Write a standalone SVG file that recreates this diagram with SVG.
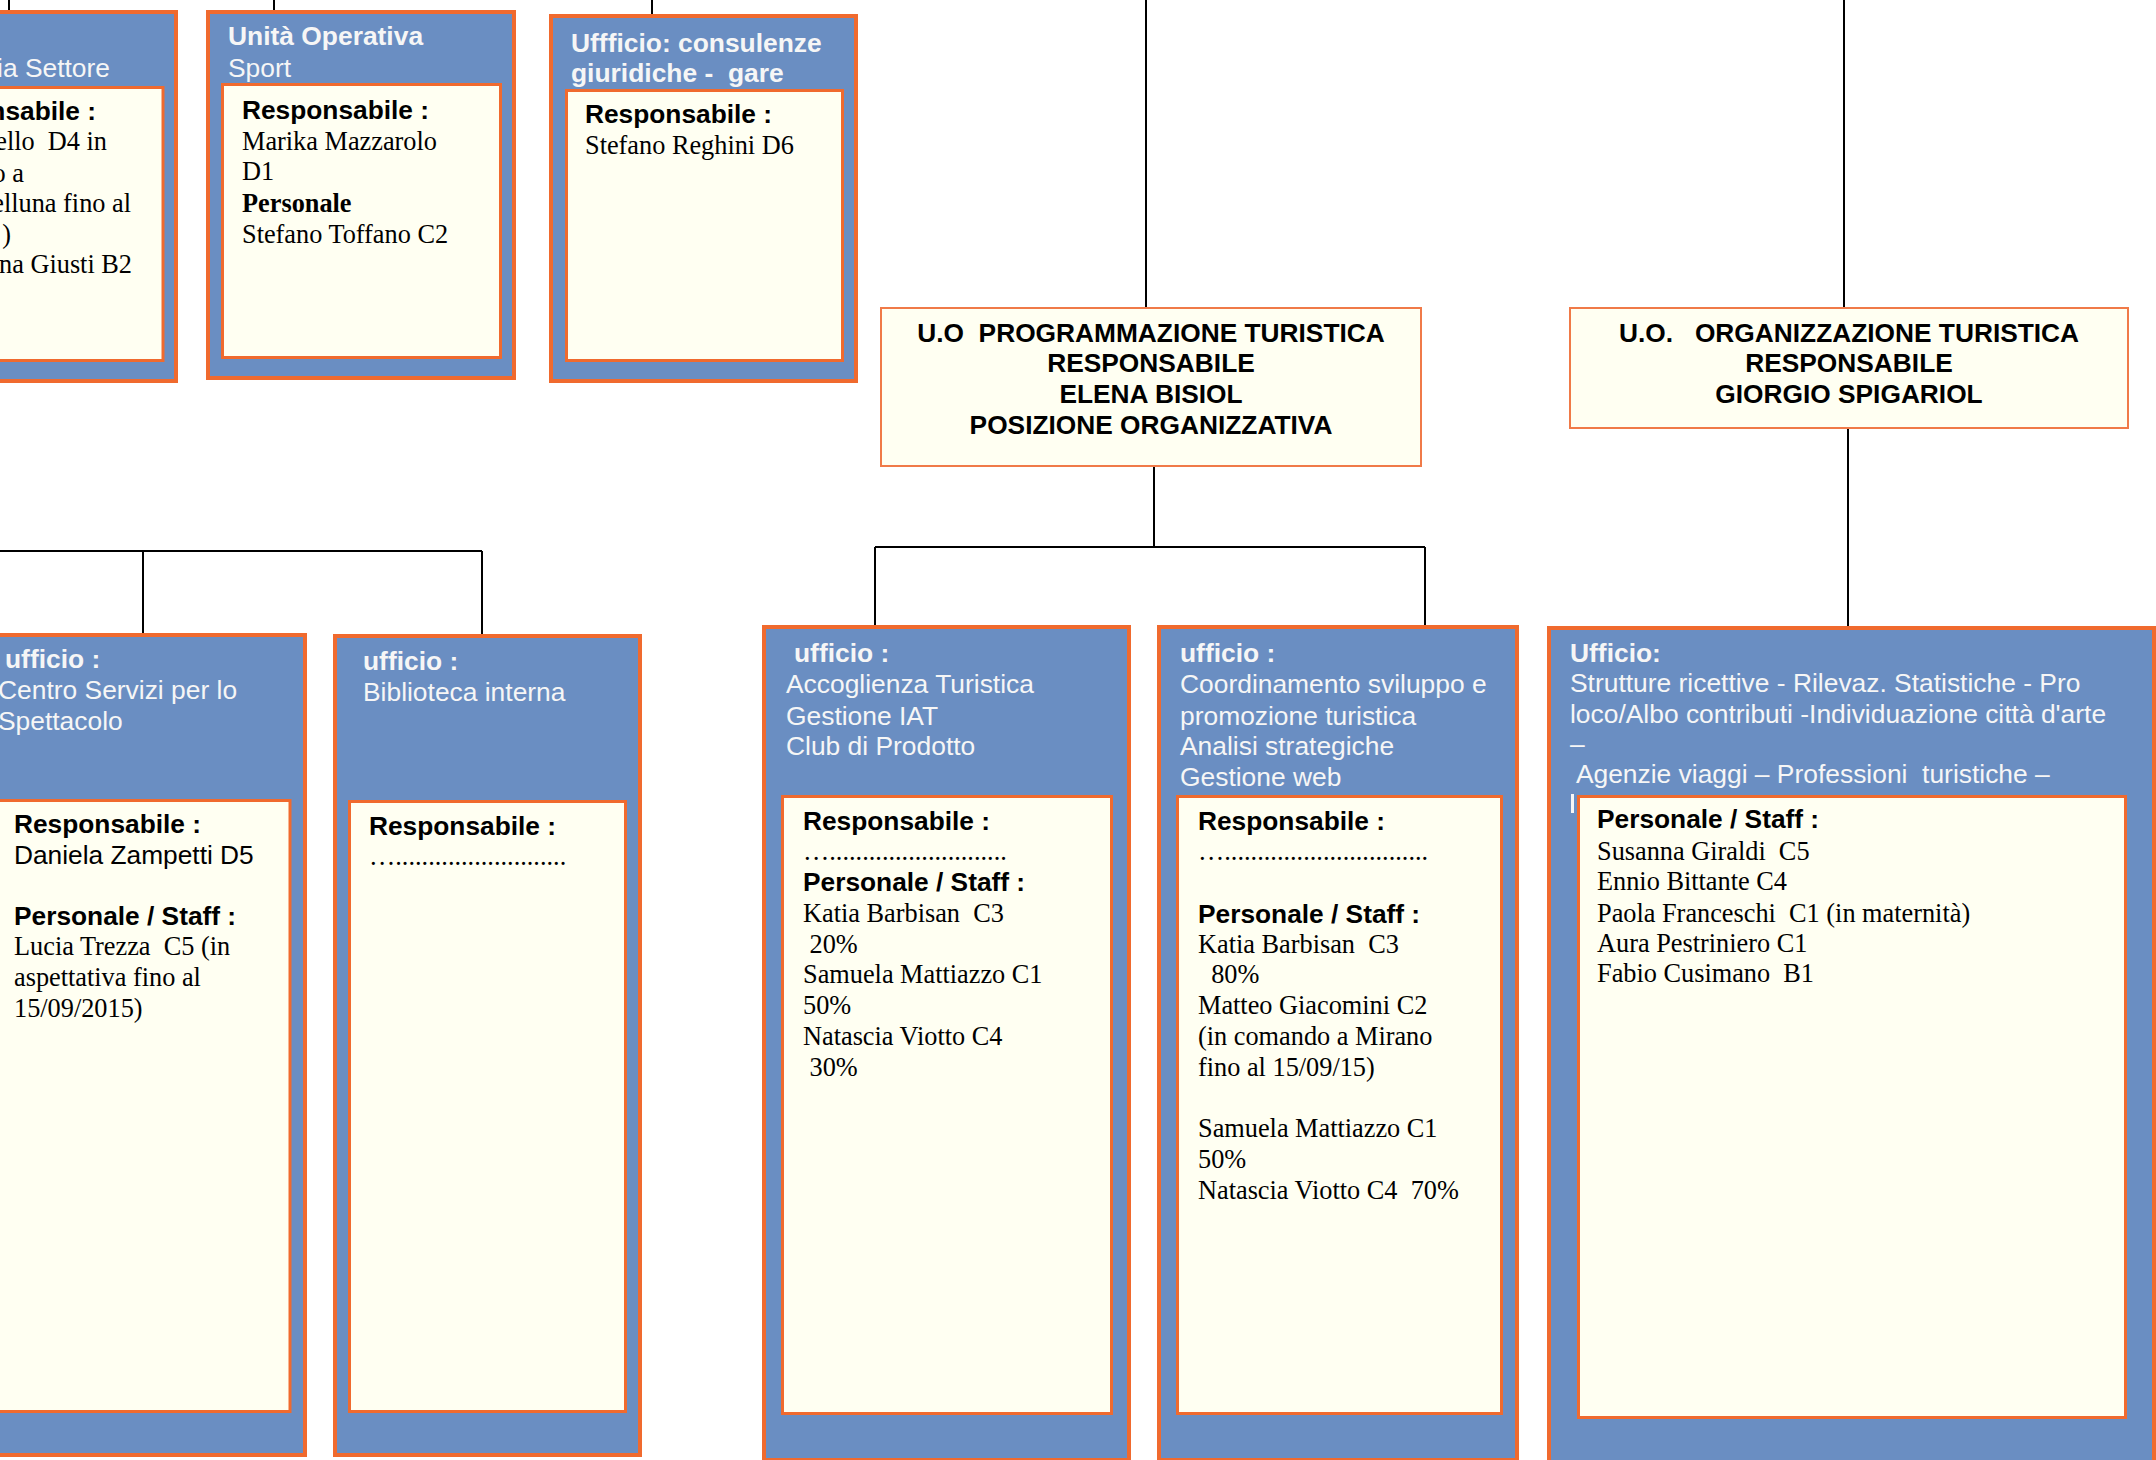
<svg xmlns="http://www.w3.org/2000/svg" width="2156" height="1460" viewBox="0 0 2156 1460">
<style>
.outer{fill:#6a8ec2;stroke:#f06a2e;stroke-width:4}
.inner{fill:#fffff2;stroke:#f06a2e;stroke-width:3}
.uo{fill:#fffff2;stroke:#f07a48;stroke-width:2}
.hb{font-family:"Liberation Sans",Arial,sans-serif;font-size:26.4px;font-weight:bold;fill:#f6f6f6}
.hr{font-family:"Liberation Sans",Arial,sans-serif;font-size:26.4px;fill:#f6f6f6}
.sb{font-family:"Liberation Sans",Arial,sans-serif;font-size:26.3px;font-weight:bold;fill:#000}
.sr{font-family:"Liberation Sans",Arial,sans-serif;font-size:26.3px;fill:#000}
.tr{font-family:"Liberation Serif","Times New Roman",serif;font-size:26.3px;fill:#000}
.tb{font-family:"Liberation Serif","Times New Roman",serif;font-size:26.3px;font-weight:bold;fill:#000}
.c{text-anchor:middle}
.e{text-anchor:end}
.ln{stroke:#000;stroke-width:2;fill:none}
</style>
<rect width="2156" height="1460" fill="#fff"/>
<g id="connectors">
<path class="ln" d="M9 0V10M274 0V10M652 0V14M1146 0V307M1844 0V307"/>
<path class="ln" d="M1154 467V547M875 547H1425M875 547V626M1425 547V626"/>
<path class="ln" d="M1848 428V627"/>
<path class="ln" d="M0 551H482M143 551V633M482 551V634"/>
</g>
<g id="box-settore">
<rect class="outer" x="-10" y="12" width="186" height="369"/>
<rect class="inner" x="-10" y="87.5" width="173" height="273"/>
<text class="hr e" x="110" y="77">ia Settore</text>
<text class="sb e" x="96" y="120">nsabile :</text>
<text class="tr e" x="107" y="150" xml:space="preserve">ello  D4 in</text>
<text class="tr e" x="24" y="182">o a</text>
<text class="tr e" x="131" y="212">elluna fino al</text>
<text class="tr e" x="11" y="243">)</text>
<text class="tr e" x="132" y="273">na Giusti B2</text>
</g>
<g id="box-sport">
<rect class="outer" x="208" y="12" width="306" height="366"/>
<rect class="inner" x="222.5" y="84.5" width="278" height="273"/>
<text class="hb" x="228" y="45">Unità Operativa</text>
<text class="hr" x="228" y="77">Sport</text>
<text class="sb" x="242" y="119">Responsabile :</text>
<text class="tr" x="242" y="150">Marika Mazzarolo</text>
<text class="tr" x="242" y="180">D1</text>
<text class="tb" x="242" y="212">Personale</text>
<text class="tr" x="242" y="243">Stefano Toffano C2</text>
</g>
<g id="box-consulenze">
<rect class="outer" x="551" y="16" width="305" height="365"/>
<rect class="inner" x="566.5" y="90.5" width="276" height="270"/>
<text class="hb" x="571" y="52">Uffficio: consulenze</text>
<text class="hb" x="571" y="82" xml:space="preserve">giuridiche -  gare</text>
<text class="sb" x="585" y="123">Responsabile :</text>
<text class="tr" x="585" y="154">Stefano Reghini D6</text>
</g>
<g id="uo-programmazione">
<rect class="uo" x="881" y="308" width="540" height="158"/>
<text class="sb c" x="1151" y="342" xml:space="preserve">U.O  PROGRAMMAZIONE TURISTICA</text>
<text class="sb c" x="1151" y="372">RESPONSABILE</text>
<text class="sb c" x="1151" y="403">ELENA BISIOL</text>
<text class="sb c" x="1151" y="434">POSIZIONE ORGANIZZATIVA</text>
</g>
<g id="uo-organizzazione">
<rect class="uo" x="1570" y="308" width="558" height="120"/>
<text class="sb c" x="1849" y="342" xml:space="preserve">U.O.   ORGANIZZAZIONE TURISTICA</text>
<text class="sb c" x="1849" y="372">RESPONSABILE</text>
<text class="sb c" x="1849" y="403">GIORGIO SPIGARIOL</text>
</g>
<g id="box-centro-servizi">
<rect class="outer" x="-10" y="635" width="315" height="820"/>
<rect class="inner" x="-10" y="800.5" width="300" height="611"/>
<text class="hb" x="5" y="668">ufficio :</text>
<text class="hr" x="-2" y="699">Centro Servizi per lo</text>
<text class="hr" x="-2" y="730">Spettacolo</text>
<text class="sb" x="14" y="833">Responsabile :</text>
<text class="sr" x="14" y="864">Daniela Zampetti D5</text>
<text class="sb" x="14" y="925">Personale / Staff :</text>
<text class="tr" x="14" y="955" xml:space="preserve">Lucia Trezza  C5 (in</text>
<text class="tr" x="14" y="986">aspettativa fino al</text>
<text class="tr" x="14" y="1017">15/09/2015)</text>
</g>
<g id="box-biblioteca">
<rect class="outer" x="335" y="636" width="305" height="819"/>
<rect class="inner" x="349.5" y="801.5" width="276" height="610"/>
<text class="hb" x="363" y="670">ufficio :</text>
<text class="hr" x="363" y="701">Biblioteca interna</text>
<text class="sb" x="369" y="835">Responsabile :</text>
<text class="tr" x="369" y="865">…..........................</text>
</g>
<g id="box-accoglienza">
<rect class="outer" x="764" y="627" width="365" height="833"/>
<rect class="inner" x="782.5" y="796.5" width="329" height="617"/>
<text class="hb" x="794" y="662">ufficio :</text>
<text class="hr" x="786" y="693">Accoglienza Turistica</text>
<text class="hr" x="786" y="725">Gestione IAT</text>
<text class="hr" x="786" y="755">Club di Prodotto</text>
<text class="sb" x="803" y="830">Responsabile :</text>
<text class="tr" x="803" y="860">…...........................</text>
<text class="sb" x="803" y="891">Personale / Staff :</text>
<text class="tr" x="803" y="922" xml:space="preserve">Katia Barbisan  C3</text>
<text class="tr" x="803" y="953" xml:space="preserve"> 20%</text>
<text class="tr" x="803" y="983">Samuela Mattiazzo C1</text>
<text class="tr" x="803" y="1014">50%</text>
<text class="tr" x="803" y="1045">Natascia Viotto C4</text>
<text class="tr" x="803" y="1076" xml:space="preserve"> 30%</text>
</g>
<g id="box-coordinamento">
<rect class="outer" x="1159" y="627" width="358" height="833"/>
<rect class="inner" x="1177.5" y="796.5" width="324" height="617"/>
<text class="hb" x="1180" y="662">ufficio :</text>
<text class="hr" x="1180" y="693">Coordinamento sviluppo e</text>
<text class="hr" x="1180" y="725">promozione turistica</text>
<text class="hr" x="1180" y="755">Analisi strategiche</text>
<text class="hr" x="1180" y="786">Gestione web</text>
<text class="sb" x="1198" y="830">Responsabile :</text>
<text class="tr" x="1198" y="860">…...............................</text>
<text class="sb" x="1198" y="923">Personale / Staff :</text>
<text class="tr" x="1198" y="953" xml:space="preserve">Katia Barbisan  C3</text>
<text class="tr" x="1198" y="983" xml:space="preserve">  80%</text>
<text class="tr" x="1198" y="1014">Matteo Giacomini C2</text>
<text class="tr" x="1198" y="1045">(in comando a Mirano</text>
<text class="tr" x="1198" y="1076">fino al 15/09/15)</text>
<text class="tr" x="1198" y="1137">Samuela Mattiazzo C1</text>
<text class="tr" x="1198" y="1168">50%</text>
<text class="tr" x="1198" y="1199" xml:space="preserve">Natascia Viotto C4  70%</text>
</g>
<g id="box-strutture">
<rect class="outer" x="1549" y="628" width="605" height="840"/>
<text class="hb" x="1570" y="662">Ufficio:</text>
<text class="hr" x="1570" y="692">Strutture ricettive - Rilevaz. Statistiche - Pro</text>
<text class="hr" x="1570" y="723">loco/Albo contributi -Individuazione città d'arte</text>
<text class="hr" x="1570" y="753">–</text>
<text class="hr" x="1570" y="783" xml:space="preserve"> Agenzie viaggi – Professioni  turistiche –</text>
<rect x="1571" y="794" width="3" height="19" fill="#f6f6f6"/>
<rect class="inner" x="1578.5" y="796.5" width="547" height="621"/>
<text class="sb" x="1597" y="828">Personale / Staff :</text>
<text class="tr" x="1597" y="860" xml:space="preserve">Susanna Giraldi  C5</text>
<text class="tr" x="1597" y="890">Ennio Bittante C4</text>
<text class="tr" x="1597" y="922" xml:space="preserve">Paola Franceschi  C1 (in maternità)</text>
<text class="tr" x="1597" y="952">Aura Pestriniero C1</text>
<text class="tr" x="1597" y="982" xml:space="preserve">Fabio Cusimano  B1</text>
</g>
</svg>
